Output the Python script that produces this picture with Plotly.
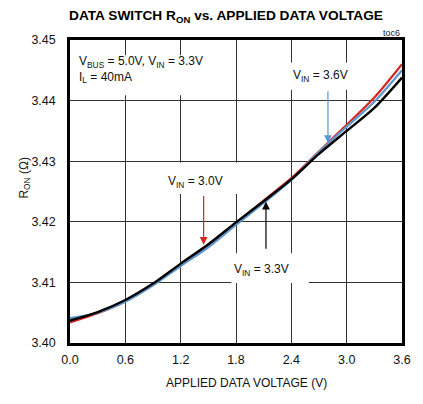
import plotly.graph_objects as go

# ---- data ----
x_volts = [0.0, 0.3, 0.6, 0.9, 1.2, 1.5, 1.8, 2.1, 2.4, 2.7, 3.0, 3.3, 3.6]
ron_vin_3v0 = [3.4034, 3.4049, 3.4069, 3.4096, 3.4128, 3.4160, 3.4197, 3.4235, 3.4272, 3.4316, 3.4360, 3.4405, 3.4460]
ron_vin_3v3 = [3.4037, 3.4051, 3.4071, 3.4098, 3.4131, 3.4163, 3.4199, 3.4234, 3.4270, 3.4312, 3.4350, 3.4388, 3.4438]
ron_vin_3v6 = [3.4041, 3.4050, 3.4068, 3.4095, 3.4127, 3.4158, 3.4195, 3.4231, 3.4269, 3.4315, 3.4357, 3.4398, 3.4450]
x_ticks = [0.0, 0.6, 1.2, 1.8, 2.4, 3.0, 3.6]
y_ticks = [3.40, 3.41, 3.42, 3.43, 3.44, 3.45]

FONT = "Liberation Sans Narrow, Arial Narrow, Liberation Sans, Arial, sans-serif"
RED = "#d7261e"
BLUE = "#5b97cf"
BLACK = "#000000"

fig = go.Figure()
for ys, col, w in [(ron_vin_3v0, RED, 2.2), (ron_vin_3v6, BLUE, 2.2), (ron_vin_3v3, BLACK, 2.4)]:
    fig.add_trace(go.Scatter(x=x_volts, y=ys, mode="lines",
                             line=dict(color=col, width=w, shape="spline", smoothing=0.8),
                             showlegend=False, hoverinfo="skip"))

# white boxes behind labels, cutting gridlines (between gridlines and traces)
boxes = [
    (0.05, 1.71, 3.4409, 3.4475),   # top-left conditions
    (2.30, 3.05, 3.4418, 3.4463),   # VIN = 3.6V
    (1.02, 1.88, 3.4246, 3.4298),   # VIN = 3.0V
    (1.75, 2.59, 3.4099, 3.4148),   # VIN = 3.3V
]
for x0, x1, y0, y1 in boxes:
    fig.add_shape(type="rect", xref="x", yref="y", x0=x0, x1=x1, y0=y0, y1=y1,
                  fillcolor="white", line=dict(width=0), layer="between")

# arrows
arrows = [
    (1.449, 3.4245, 3.4162, RED),
    (2.125, 3.4153, 3.4233, BLACK),
    (2.797, 3.4418, 3.4330, BLUE),
]
for ax_, y_tail, y_tip, col in arrows:
    fig.add_annotation(x=ax_, y=y_tip, ax=ax_, ay=y_tail, xref="x", yref="y",
                       axref="x", ayref="y", text="", showarrow=True,
                       arrowhead=2, arrowsize=1.3, arrowwidth=1.2, arrowcolor=col)

lab_font = dict(family=FONT, size=12, color="#111")
fig.add_annotation(x=1.36, y=3.4266, xref="x", yref="y", text="V<sub>IN</sub> = 3.0V",
                   showarrow=False, font=lab_font)
fig.add_annotation(x=2.08, y=3.4120, xref="x", yref="y", text="V<sub>IN</sub> = 3.3V",
                   showarrow=False, font=lab_font)
fig.add_annotation(x=2.72, y=3.4441, xref="x", yref="y", text="V<sub>IN</sub> = 3.6V",
                   showarrow=False, font=lab_font)
fig.add_annotation(x=0.08, y=3.4480, xref="x", yref="y", xanchor="left", yanchor="top",
                   align="left",
                   text="V<sub>BUS</sub> = 5.0V, V<sub>IN</sub> = 3.3V<br>I<sub>L</sub> = 40mA",
                   showarrow=False, font=lab_font)

# title, toc, axis titles
fig.add_annotation(x=0.471, y=1.112, xref="paper", yref="paper",
                   text="<b>DATA SWITCH R<sub>ON</sub> vs. APPLIED DATA VOLTAGE</b>",
                   showarrow=False, font=dict(family=FONT, size=13.7, color="black"))
fig.add_annotation(x=1.0, y=1.0, xref="paper", yref="paper", xanchor="right", yanchor="bottom",
                   text="toc6", showarrow=False, font=dict(family=FONT, size=9, color="#222"))
fig.add_annotation(x=0.531, y=-0.162, xref="paper", yref="paper",
                   text="APPLIED DATA VOLTAGE (V)", showarrow=False,
                   font=dict(family=FONT, size=12, color="#111"))
fig.add_annotation(x=-0.1664, y=0.545, xref="paper", yref="paper", textangle=-90,
                   text="R<sub>ON</sub> (Ω)", showarrow=False,
                   font=dict(family=FONT, size=12, color="#111"))

axis_common = dict(showgrid=True, gridcolor="#333333", gridwidth=1.2,
                   showline=True, linecolor="black", linewidth=2.5, mirror=True,
                   ticks="", zeroline=False,
                   tickfont=dict(family=FONT, size=12.5, color="#111"))
fig.update_xaxes(range=[0, 3.6], tickvals=x_ticks, tickformat=".1f",
                 ticklabelstandoff=3, **axis_common)
fig.update_yaxes(range=[3.40, 3.45], tickvals=y_ticks, tickformat=".2f",
                 ticklabelstandoff=9, **axis_common)

# page body has an 8px margin, so the figure is sized to fit the 423x404 window
fig.update_layout(width=415, height=396, margin=dict(l=62, r=19, t=32, b=61),
                  paper_bgcolor="white", plot_bgcolor="white")

fig.write_html("out.html")
